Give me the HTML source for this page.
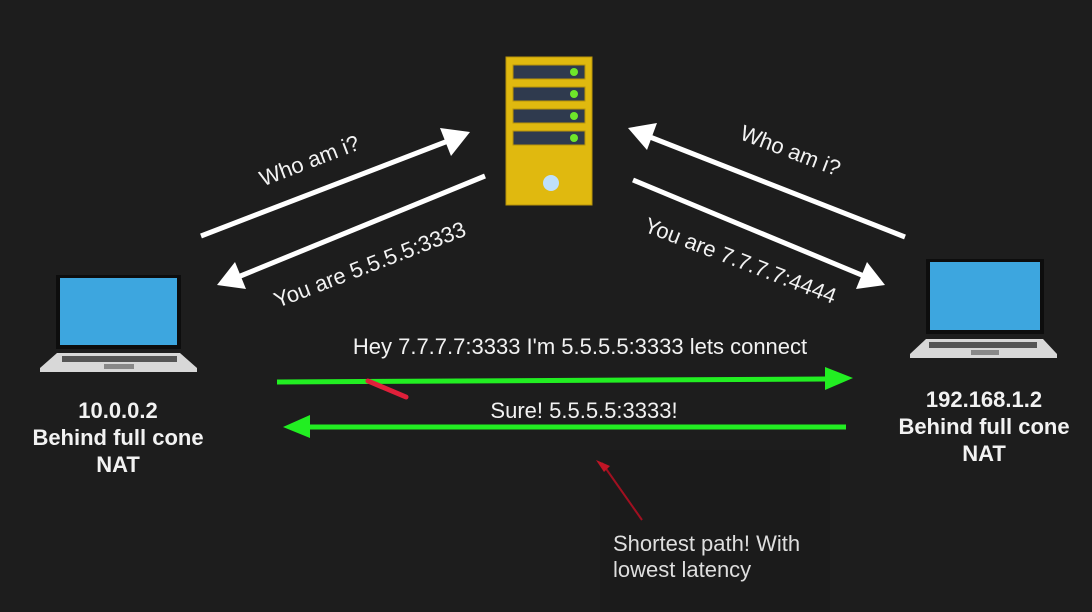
<!DOCTYPE html>
<html><head><meta charset="utf-8"><style>
html,body{margin:0;padding:0;background:#1d1d1d;}
svg{display:block}
text{font-family:"Liberation Sans",Arial,sans-serif;fill:#f2f2f2;}
</style></head><body>
<svg width="1092" height="612" viewBox="0 0 1092 612" xmlns="http://www.w3.org/2000/svg">
<rect width="1092" height="612" fill="#1d1d1d"/>
<rect x="600" y="450" width="230" height="162" fill="#1b1b1b"/>
<!-- server -->
<rect x="506" y="57" width="86" height="148" fill="#e0b90f" stroke="#b8940a" stroke-width="1"/>
<g fill="#2f3a4e" stroke="#b8940a" stroke-width="1">
<rect x="513" y="65" width="72" height="14"/>
<rect x="513" y="87" width="72" height="14"/>
<rect x="513" y="109" width="72" height="14"/>
<rect x="513" y="131" width="72" height="14"/>
</g>
<g fill="#6ee62a"><circle cx="574" cy="72" r="4"/><circle cx="574" cy="94" r="4"/><circle cx="574" cy="116" r="4"/><circle cx="574" cy="138" r="4"/></g>
<circle cx="551" cy="183" r="8" fill="#bfe0fb"/>
<!-- left laptop -->
<rect x="56" y="275" width="125" height="74" fill="#0d0d0d"/>
<rect x="60" y="278" width="117" height="67" fill="#3da6df"/>
<polygon points="57,353 180,353 197,368 197,372 40,372 40,368" fill="#d8d8d8"/>
<rect x="62" y="356" width="98" height="6" fill="#555"/><rect x="132" y="356" width="45" height="6" fill="#555"/>
<rect x="104" y="364" width="30" height="5" fill="#888"/>
<!-- right laptop -->
<rect x="926" y="259" width="118" height="75" fill="#0d0d0d"/>
<rect x="930" y="262" width="110" height="68" fill="#3da6df"/>
<polygon points="926,339 1043,339 1057,354 1057,358 910,358 910,354" fill="#d8d8d8"/>
<rect x="929" y="342" width="108" height="6" fill="#555"/>
<rect x="971" y="350" width="28" height="5" fill="#888"/>
<!-- white arrows -->
<g stroke="#fff" stroke-width="5" fill="none">
<line x1="201" y1="236" x2="448" y2="141"/>
<line x1="485" y1="176" x2="238" y2="277"/>
<line x1="905" y1="237" x2="650" y2="137"/>
<line x1="633" y1="180" x2="864" y2="276"/>
</g>
<g fill="#fff">
<polygon points="470,132 440,128 451,156"/>
<polygon points="217,285 246,289 235,262"/>
<polygon points="628,128 647,150 657,123"/>
<polygon points="885,285 867,262 856,289"/>
</g>
<text x="310" y="168" font-size="22" text-anchor="middle" transform="rotate(-21 310 162)">Who am i?</text>
<text x="370" y="272" font-size="22" text-anchor="middle" transform="rotate(-21 370 265)">You are 5.5.5.5:3333</text>
<text x="790" y="158" font-size="22" text-anchor="middle" transform="rotate(21 790 152)">Who am i?</text>
<text x="740" y="268" font-size="22" text-anchor="middle" transform="rotate(21 740 262)">You are 7.7.7.7:4444</text>
<!-- green arrows -->
<line x1="277" y1="382" x2="826" y2="379" stroke="#22ee22" stroke-width="5"/>
<polygon points="853,378 825,367 825,390" fill="#22ee22"/>
<line x1="846" y1="427" x2="310" y2="427" stroke="#22ee22" stroke-width="5"/>
<polygon points="283,427 310,415 310,438" fill="#22ee22"/>
<text x="580" y="354" font-size="22" text-anchor="middle">Hey 7.7.7.7:3333 I'm 5.5.5.5:3333 lets connect</text>
<text x="584" y="418" font-size="22" text-anchor="middle">Sure! 5.5.5.5:3333!</text>
<!-- red annotations -->
<line x1="368" y1="381" x2="406" y2="397" stroke="#e0203a" stroke-width="5" stroke-linecap="round"/>
<line x1="642" y1="520" x2="602" y2="463" stroke="#a01020" stroke-width="2"/>
<polygon points="596,460 604,472 610,466" fill="#c01525"/>
<text x="613" y="551" font-size="22" style="fill:#dedede">Shortest path! With</text>
<text x="613" y="577" font-size="22" style="fill:#dedede">lowest latency</text>
<!-- labels -->
<g font-size="22" font-weight="bold" text-anchor="middle">
<text x="118" y="418">10.0.0.2</text>
<text x="118" y="445">Behind full cone</text>
<text x="118" y="472">NAT</text>
<text x="984" y="407">192.168.1.2</text>
<text x="984" y="434">Behind full cone</text>
<text x="984" y="461">NAT</text>
</g>
</svg>
</body></html>
